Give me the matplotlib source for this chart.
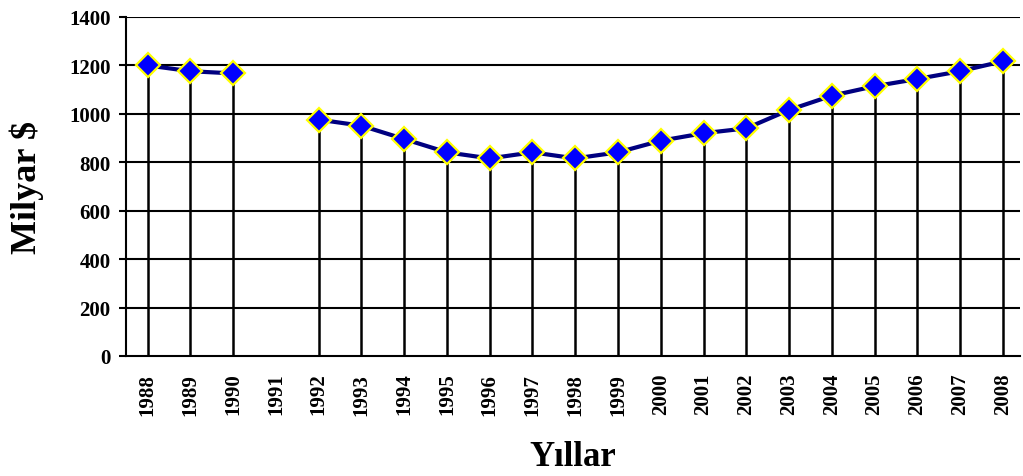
import numpy as np
import matplotlib.pyplot as plt

plt.rcParams['font.family'] = ['Liberation Serif', 'DejaVu Serif']
plt.rcParams['font.weight'] = 'bold'

years = ['1988', '1989', '1990', '1991', '1992', '1993', '1994', '1995', '1996', '1997', '1998',
         '1999', '2000', '2001', '2002', '2003', '2004', '2005', '2006', '2007', '2008']
values = [1200, 1176, 1167, np.nan, 976, 951, 896, 841, 816, 841, 816,
          841, 889, 920, 940, 1016, 1075, 1114, 1144, 1176, 1217]

x = np.arange(len(years))
vals = np.array(values, dtype=float)

fig = plt.figure(figsize=(10.23, 4.77), dpi=100)
ax = fig.add_axes([0.123, 0.2516, 0.874, 0.7107])

# horizontal grid
for yv in range(200, 1401, 200):
    ax.axhline(yv, color='black', lw=1.5, zorder=1)

# drop lines from each point to zero
ok = ~np.isnan(vals)
ax.vlines(x[ok], 0, vals[ok], color='black', lw=1.8, zorder=2)

ax.plot(x, vals, color='#000080', lw=3, marker='D', markersize=12,
        markerfacecolor='#0000ff', markeredgecolor='#ffff00', markeredgewidth=1.6, zorder=3)

ax.set_xlim(-0.51, 20.4)
ax.set_ylim(0, 1400)
ax.set_yticks(range(0, 1401, 200))
ax.set_xticks(x)
ax.set_xticklabels(years, rotation=90, fontsize=15, fontweight='bold')
for lab in ax.get_yticklabels():
    lab.set_fontsize(15)
    lab.set_fontweight('bold')

ax.tick_params(axis='x', length=0, pad=12)
ax.tick_params(axis='y', length=5, width=1.5, pad=6, direction='out')

for s in ['top', 'right']:
    ax.spines[s].set_visible(False)
ax.spines['left'].set_linewidth(1.5)
ax.spines['bottom'].set_linewidth(1.5)

ax.set_ylabel('Milyar $', fontsize=26, fontweight='bold', labelpad=18)
ax.set_xlabel('Yıllar', fontsize=25, fontweight='bold', labelpad=18)

fig.savefig('out.png', dpi=100)
